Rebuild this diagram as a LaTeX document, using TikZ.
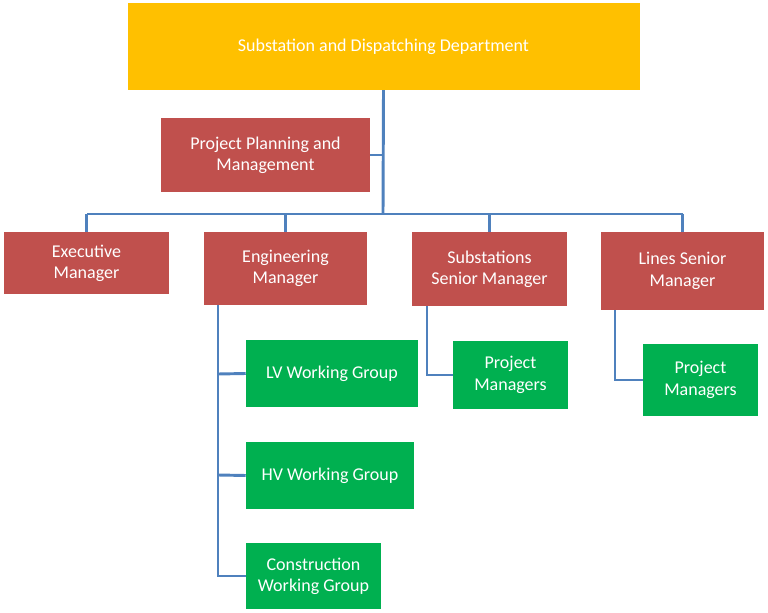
\documentclass[tikz,border=0pt]{standalone}
\usepackage{fontspec}
\setmainfont{Carlito}
\definecolor{boxorange}{HTML}{FFC000}
\definecolor{boxred}{HTML}{C0504D}
\definecolor{boxgreen}{HTML}{00B050}
\definecolor{linkblue}{HTML}{4F81BD}
\tikzset{
  unit/.style={fill=#1, text=white, align=center, inner sep=2pt,
    font=\fontsize{13.5}{16}\selectfont},
  link/.style={draw=linkblue, line width=2.2pt}
}
\begin{document}
\begin{tikzpicture}[x=0.75pt, y=-0.75pt]
    \useasboundingbox (0,0) rectangle (768,613);
    % boxes
    \node [unit=boxorange, minimum width=384pt, minimum height=65pt] (dept) at (383.5,46.5) {Substation and Dispatching Department};
    \node [unit=boxred, minimum width=157pt, minimum height=55pt] (ppm) at (265.5,155) {Project Planning and\\Management};
    \node [unit=boxred, minimum width=124pt, minimum height=46pt] (exe) at (86.5,263) {Executive\\Manager};
    \node [unit=boxred, minimum width=122pt, minimum height=55pt] (eng) at (285.5,268.5) {Engineering\\Manager};
    \node [unit=boxred, minimum width=116pt, minimum height=55pt] (sub) at (489.5,269) {Substations\\Senior Manager};
    \node [unit=boxred, minimum width=122pt, minimum height=58pt] (lin) at (682.5,271) {Lines Senior\\Manager};
    \node [unit=boxgreen, minimum width=129pt, minimum height=50pt] (lv) at (332,373.5) {LV Working Group};
    \node [unit=boxgreen, minimum width=126pt, minimum height=50pt] (hv) at (330,475.5) {HV Working Group};
    \node [unit=boxgreen, minimum width=101pt, minimum height=50pt] (con) at (313.5,576) {Construction\\Working Group};
    \node [unit=boxgreen, minimum width=86pt, minimum height=51pt] (pm1) at (510.5,375) {Project\\Managers};
    \node [unit=boxgreen, minimum width=86pt, minimum height=54pt] (pm2) at (700.5,380) {Project\\Managers};
    % connectors
    \coordinate (bus) at (383,214);
    \draw [link] (dept.south) -- (bus);
    \draw [link] (ppm.east) -- (383,155);
    \draw [link] (87,214) -- (683,214);
    \foreach \n in {exe,eng,sub,lin}
      \draw [link] (\n.north |- bus) -- (\n.north);
    \draw [link] (218,305) -- (218,576) -- (con.west);
    \draw [link] (218,374) -- (lv.west);
    \draw [link] (218,475) -- (hv.west);
    \draw [link] (427,306) -- (427,375) -- (pm1.west);
    \draw [link] (615,310) -- (615,380) -- (pm2.west);
\end{tikzpicture}
\end{document}
